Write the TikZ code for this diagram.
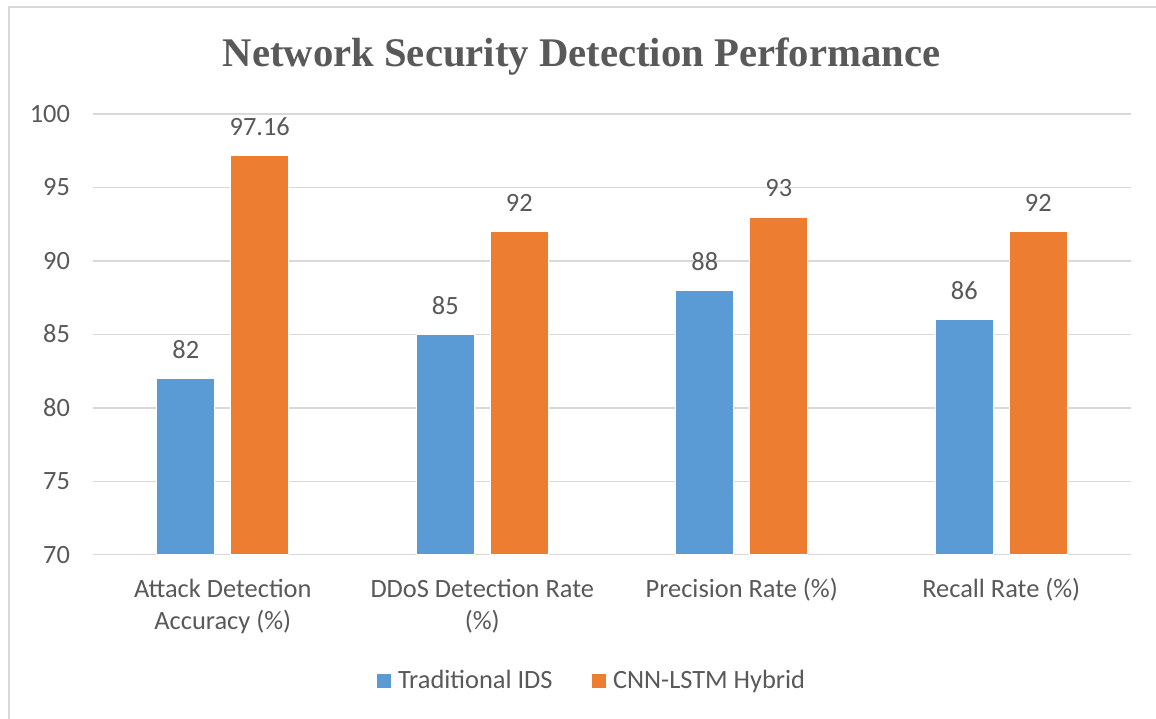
\documentclass[tikz,border=0pt]{standalone}
\usepackage{fontspec}
\setmainfont{Carlito}
\newfontfamily\titlefont{Liberation Serif}
\definecolor{seriesA}{HTML}{5B9BD5}
\definecolor{seriesB}{HTML}{ED7D31}
\definecolor{inktext}{HTML}{595959}
\definecolor{gridgray}{HTML}{D9D9D9}
\begin{document}
\begin{tikzpicture}[x=1pt,y=-1pt,
  lbl/.style={inner sep=0pt, outer sep=0pt, text=inktext, font=\fontsize{26.4}{32}\selectfont},
  bar/.style={inner sep=0pt, outer sep=0pt, minimum width=58pt, draw=white, line width=0.6pt, anchor=south},
  gridline/.style={draw=gridgray, line width=1.4pt},
  swatch/.style={inner sep=0pt, outer sep=0pt, minimum size=15pt, draw=white, line width=0.5pt}]
  \useasboundingbox (0,0) rectangle (1156,719);
  \fill[white] (0,0) rectangle (1156,719);
  % chart frame (left and top edges)
  \draw[draw=gridgray, line width=2pt] (9,719) -- (9,7) -- (1156,7);
  % title
  \node[lbl, anchor=base, font=\titlefont\bfseries\fontsize{40.7}{48}\selectfont] (title) at (581.5,67) {Network Security Detection Performance};
  % gridlines and value axis labels
  \foreach \v [count=\k] in {70,75,...,100} {
    \pgfmathsetmacro\gy{554.7-(\v-70)*14.69}
    \coordinate (gl\k) at (93,\gy);
    \coordinate (gr\k) at (1131,\gy);
    \draw[gridline] (gl\k) -- (gr\k);
    \node[lbl, anchor=base east] (tick\k) at (70,\gy+8.3) {\v};
  }
  % bars, value labels and category labels
  \foreach \a/\b/\la/\lb/\cat [count=\i] in {
      82/97.16/82/97.16/{Attack Detection\\Accuracy (\%)},
      85/92/85/92/{DDoS Detection Rate\\(\%)},
      88/93/88/93/{Precision Rate (\%)},
      86/92/86/92/{Recall Rate (\%)}} {
    \pgfmathsetmacro\c{93+259.5*(\i-0.5)}
    \pgfmathsetmacro\ha{(\a-70)*14.69}
    \pgfmathsetmacro\hb{(\b-70)*14.69}
    \node[bar, fill=seriesA, minimum height=\ha pt] (ids\i) at (\c-37,554.7) {};
    \node[bar, fill=seriesB, minimum height=\hb pt] (hyb\i) at (\c+37,554.7) {};
    \node[lbl, anchor=base] (idsval\i) at ([yshift=20pt]ids\i.north) {\la};
    \node[lbl, anchor=base] (hybval\i) at ([yshift=20pt]hyb\i.north) {\lb};
    \node[lbl, anchor=base] (cat\i) at (\c,597.7)
      {\setlength\tabcolsep{0pt}\begin{tabular}[t]{c}\cat\end{tabular}};
  }
  % legend
  \node[swatch, fill=seriesA, anchor=north west] (keyA) at (376,673.5) {};
  \node[lbl, anchor=base west] (keyAtext) at (398,688.5) {Traditional IDS};
  \node[swatch, fill=seriesB, anchor=north west] (keyB) at (591.5,673.5) {};
  \node[lbl, anchor=base west] (keyBtext) at (613,688.5) {CNN-LSTM Hybrid};
\end{tikzpicture}
\end{document}
